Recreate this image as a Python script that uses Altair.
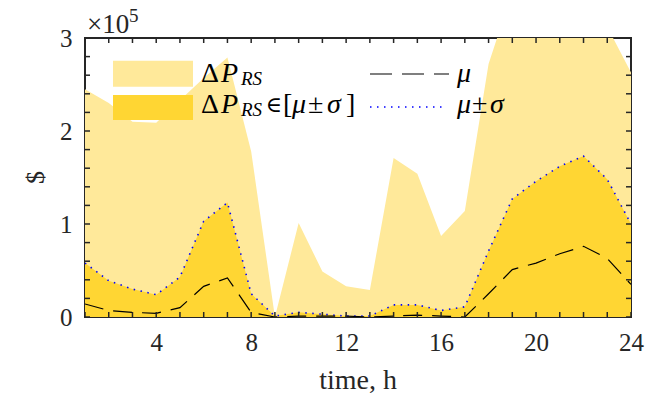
import altair as alt
import pandas as pd

# ---------------- data (units of 1e5 $) ----------------
hours = list(range(1, 25))
dp_max = [2.45, 2.30, 2.10, 2.09, 2.33, 2.57, 2.79, 1.78, 0.00, 1.01, 0.49, 0.33,
          0.29, 1.71, 1.54, 0.87, 1.14, 2.72, 3.50, 3.50, 3.50, 3.50, 3.12, 2.63]
mu_plus_sigma = [0.58, 0.39, 0.30, 0.24, 0.43, 1.03, 1.23, 0.25, 0.01, 0.05, 0.03, 0.01,
                 0.01, 0.13, 0.13, 0.07, 0.11, 0.71, 1.27, 1.46, 1.62, 1.73, 1.48, 1.00]
mu = [0.14, 0.07, 0.05, 0.04, 0.10, 0.33, 0.42, 0.05, 0.00, 0.01, 0.01, 0.01,
      0.00, 0.01, 0.02, 0.01, 0.00, 0.25, 0.51, 0.58, 0.68, 0.76, 0.63, 0.35]
x_tick_values = [4, 8, 12, 16, 20, 24]
y_tick_values = [0, 1, 2, 3]
y_minor_ticks = [0.2 * i for i in range(16)]

FONT = "Liberation Serif"
FRAME = "#262626"
LIGHT = "#FFE99A"
DARK = "#FFD633"
W, H = 546, 279

df = pd.DataFrame({"h": hours, "max": dp_max, "up": mu_plus_sigma, "mu": mu})
one = pd.DataFrame({"a": [0]})

xs = alt.Scale(domain=[1, 24], nice=False, zero=False)
ys = alt.Scale(domain=[0, 3], nice=False, zero=False)
xaxis = alt.Axis(values=x_tick_values, title=None, grid=False, domain=False, ticks=False,
                 labelFont=FONT, labelFontSize=25, labelColor=FRAME, labelPadding=13,
                 labelFlush=False)
yaxis = alt.Axis(values=y_tick_values, title=None, grid=False, domain=False, ticks=False,
                 labelFont=FONT, labelFontSize=25, labelColor=FRAME, labelPadding=13,
                 format="d", labelFlush=False)
X = alt.X("h:Q", scale=xs, axis=xaxis)

base = alt.Chart(df)
light = base.mark_area(color=LIGHT, clip=True).encode(x=X, y=alt.Y("max:Q", scale=ys, axis=yaxis))
dark = base.mark_area(color=DARK, clip=True).encode(x=X, y=alt.Y("up:Q", scale=ys, axis=yaxis))
dotted = base.mark_line(color="#0000FF", strokeDash=[1.5, 5.5], strokeWidth=1.6, clip=True).encode(
    x=X, y=alt.Y("up:Q", scale=ys, axis=yaxis))
mean = base.mark_line(color="black", strokeDash=[19, 10], strokeWidth=1.2, clip=True).encode(
    x=X, y=alt.Y("mu:Q", scale=ys, axis=yaxis))

tx = pd.DataFrame({"h": hours})
ty = pd.DataFrame({"v": y_minor_ticks})
tick_style = dict(color=FRAME, strokeWidth=1.5)
bot_ticks = alt.Chart(tx).mark_rule(**tick_style).encode(x=X, y=alt.value(H), y2=alt.value(H - 5))
top_ticks = alt.Chart(tx).mark_rule(**tick_style).encode(x=X, y=alt.value(0), y2=alt.value(5))
YV = alt.Y("v:Q", scale=ys, axis=yaxis)
left_ticks = alt.Chart(ty).mark_rule(**tick_style).encode(y=YV, x=alt.value(0), x2=alt.value(5))
right_ticks = alt.Chart(ty).mark_rule(**tick_style).encode(y=YV, x=alt.value(W), x2=alt.value(W - 5))


def txt(s, x, y, size, italic=False, align="left", baseline="alphabetic", angle=None,
        color="black", font=FONT):
    kw = dict(text=s, font=font, fontSize=size, align=align, baseline=baseline, color=color)
    if italic:
        kw["fontStyle"] = "italic"
    if angle is not None:
        kw["angle"] = angle
    return alt.Chart(one).mark_text(**kw).encode(x=alt.value(x), y=alt.value(y))


# legend
leg_light = alt.Chart(one).mark_rect(color=LIGHT).encode(
    x=alt.value(28), x2=alt.value(108), y=alt.value(22.7), y2=alt.value(48.7))
leg_dark = alt.Chart(one).mark_rect(color=DARK).encode(
    x=alt.value(28), x2=alt.value(108), y=alt.value(57), y2=alt.value(82))
leg_dash = alt.Chart(one).mark_rule(color="black", strokeDash=[22, 10], strokeWidth=1.2).encode(
    x=alt.value(285), x2=alt.value(364), y=alt.value(36))
leg_dot = alt.Chart(one).mark_rule(color="#0000FF", strokeDash=[1.5, 5.5], strokeWidth=1.6).encode(
    x=alt.value(285), x2=alt.value(361), y=alt.value(69))

b1, b2 = 44, 75
texts = [
    txt("Δ", 116, b1, 28), txt("P", 136, b1, 28, italic=True), txt("RS", 156, b1 + 3, 19, italic=True),
    txt("Δ", 116, b2, 28), txt("P", 136, b2, 28, italic=True), txt("RS", 156, b2 + 3, 19, italic=True),
    txt("∈", 189, b2 - 1, 22, align="center", font="DejaVu Serif"),
    txt("[", 198, b2, 28), txt("μ", 207, b2, 28, italic=True),
    txt("±", 223, b2, 28), txt("σ", 242, b2, 28, italic=True), txt("]", 261, b2, 28),
    txt("μ", 372, b1, 28, italic=True),
    txt("μ", 372, b2, 28, italic=True), txt("±", 387, b2, 28), txt("σ", 405, b2, 28, italic=True),
    # exponent
    txt("×10", 2, -5, 27, color=FRAME), txt("5", 44, -16, 19, color=FRAME),
    # axis titles
    txt("time, h", W / 2, 351, 28, align="center", color=FRAME),
    txt("$", -49, H / 2, 26, align="center", baseline="middle", angle=270, color=FRAME),
]

chart = alt.layer(
    light, dark, dotted, mean, bot_ticks, top_ticks, left_ticks, right_ticks,
    leg_light, leg_dark, leg_dash, leg_dot, *texts
).properties(
    width=W, height=H,
    padding={"left": 85, "top": 38, "right": 31, "bottom": 80},
    autosize=alt.AutoSizeParams(type="none"),
    background="white",
).configure_view(stroke=FRAME, strokeWidth=2)

chart.save("out.html", embed_options={"renderer": "svg", "actions": False})
